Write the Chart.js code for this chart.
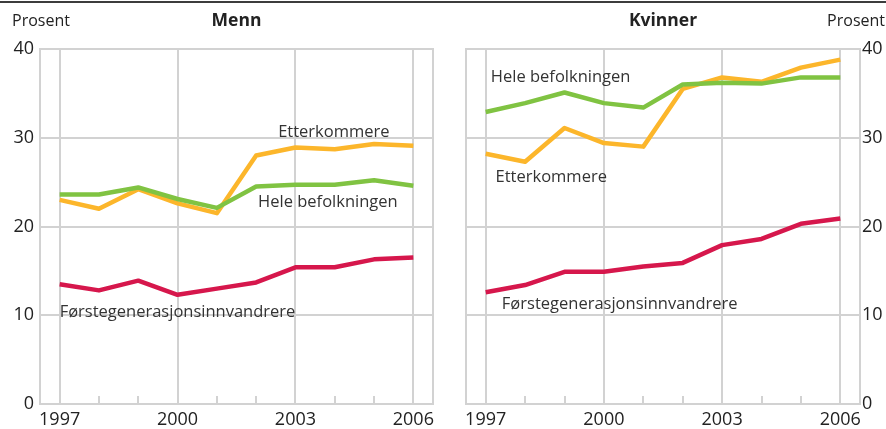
<!DOCTYPE html>
<html>
<head>
<meta charset="utf-8">
<script src="https://cdn.jsdelivr.net/npm/chart.js@4.4.1/dist/chart.umd.min.js"></script>
<style>
  html, body { margin: 0; padding: 0; background: #fff; }
  #wrap { position: relative; width: 886px; height: 429px; overflow: hidden; }
  #topline { position: absolute; left: 0; top: 1px; width: 886px; height: 2px; background: #3c3c3c; }
  canvas { position: absolute; top: 0; }
  #menn { left: 0; }
  #kvinner { left: 443px; }
</style>
</head>
<body>
<div id="wrap">
  <div id="topline"></div>
  <canvas id="menn" width="443" height="429"></canvas>
  <canvas id="kvinner" width="443" height="429"></canvas>
</div>
<script>
// Data
const years = ['1997', '1998', '1999', '2000', '2001', '2002', '2003', '2004', '2005', '2006'];
const majorYears = ['1997', '2000', '2003', '2006'];
const yTicks = [0, 10, 20, 30, 40];

const mennHele = [23.6, 23.6, 24.4, 23.1, 22.1, 24.5, 24.7, 24.7, 25.2, 24.6];
const mennEtterkommere = [23.0, 22.0, 24.2, 22.6, 21.5, 28.0, 28.9, 28.7, 29.3, 29.1];
const mennForste = [13.5, 12.8, 13.9, 12.3, 13.0, 13.7, 15.4, 15.4, 16.3, 16.5];

const kvinnerHele = [32.9, 33.9, 35.1, 33.9, 33.4, 36.0, 36.2, 36.1, 36.8, 36.8];
const kvinnerEtterkommere = [28.2, 27.3, 31.1, 29.4, 29.0, 35.5, 36.8, 36.3, 37.9, 38.8];
const kvinnerForste = [12.6, 13.4, 14.9, 14.9, 15.5, 15.9, 17.9, 18.6, 20.3, 20.9];

const GREEN = '#80c342';
const ORANGE = '#fcb62b';
const RED = '#d6174c';
const GRID = '#d2d2d2';
const TEXT = '#222';
const FONT = '"Open Sans", sans-serif';

// frame, minor ticks, titles and inline series labels
const panelDecor = {
  id: 'panelDecor',
  beforeDatasetsDraw(chart, args, opts) {
    const { ctx, chartArea: a } = chart;
    const x = chart.scales.x;
    ctx.save();
    ctx.strokeStyle = GRID;
    ctx.lineWidth = 2;
    ctx.strokeRect(a.left, a.top, a.right - a.left, a.bottom - a.top);
    years.forEach((y, i) => {
      if (majorYears.includes(y)) return;
      const px = Math.round(x.getPixelForValue(i));
      ctx.beginPath();
      ctx.moveTo(px, a.bottom);
      ctx.lineTo(px, a.bottom - 8);
      ctx.stroke();
    });
    ctx.restore();
  },
  afterDatasetsDraw(chart, args, opts) {
    const { ctx, chartArea: a } = chart;
    const x = chart.scales.x, y = chart.scales.y;
    ctx.save();
    ctx.fillStyle = TEXT;
    ctx.textBaseline = 'middle';
    ctx.font = 'bold 17.5px ' + FONT;
    ctx.textAlign = 'center';
    ctx.fillText(opts.title, (a.left + a.right) / 2, 21);
    ctx.font = '16px ' + FONT;
    if (opts.unitSide === 'left') {
      ctx.textAlign = 'left';
      ctx.fillText('Prosent', 12, 21);
    } else {
      ctx.textAlign = 'right';
      ctx.fillText('Prosent', chart.width - 1, 21);
    }
    ctx.fillStyle = '#333';
    ctx.textAlign = 'left';
    ctx.font = '16.5px ' + FONT;
    opts.labels.forEach(l => {
      ctx.fillText(l.text, x.getPixelForValue(l.x), y.getPixelForValue(l.y));
    });
    ctx.restore();
  }
};

function makePanel(id, hele, etter, forste, side, title, labels) {
  const left = side === 'left';
  return new Chart(document.getElementById(id), {
    type: 'line',
    data: {
      labels: years,
      datasets: [
        { label: 'Førstegenerasjonsinnvandrere', data: forste, borderColor: RED },
        { label: 'Hele befolkningen', data: hele, borderColor: GREEN },
        { label: 'Etterkommere', data: etter, borderColor: ORANGE }
      ].map(d => Object.assign(d, {
        borderWidth: 4.5, pointRadius: 0, tension: 0, fill: false,
        borderCapStyle: 'butt', borderJoinStyle: 'round'
      }))
    },
    options: {
      responsive: false,
      animation: false,
      events: [],
      layout: { padding: left ? { left: 0, right: 10, top: 49, bottom: 0 } : { left: 23, right: 0, top: 49, bottom: 0 } },
      plugins: {
        legend: { display: false },
        tooltip: { enabled: false },
        panelDecor: { title, unitSide: side, labels }
      },
      scales: {
        x: {
          type: 'category',
          offset: true,
          grid: {
            offset: false,
            drawTicks: false,
            lineWidth: 2,
            color: c => majorYears.includes(years[c.index]) ? GRID : 'rgba(0,0,0,0)'
          },
          border: { display: false },
          ticks: {
            autoSkip: false, maxRotation: 0, padding: 5,
            color: TEXT, font: { family: FONT, size: 18 },
            callback: (v, i) => majorYears.includes(years[i]) ? years[i] : ''
          },
          afterFit: s => { s.height = 25; }
        },
        y: {
          position: side,
          min: 0, max: 40,
          afterBuildTicks: s => { s.ticks = yTicks.map(v => ({ value: v })); },
          grid: { drawTicks: false, lineWidth: 2, color: GRID },
          border: { display: false },
          ticks: {
            padding: left ? 6 : 2,
            color: TEXT, font: { family: FONT, size: 18 }
          },
          afterFit: s => { s.width = left ? 40 : 26; }
        }
      }
    },
    plugins: [panelDecor]
  });
}

makePanel('menn', mennHele, mennEtterkommere, mennForste, 'left', 'Menn', [
  { text: 'Etterkommere', x: 5.56, y: 30.65 },
  { text: 'Hele befolkningen', x: 5.05, y: 22.76 },
  { text: 'Førstegenerasjonsinnvandrere', x: 0, y: 10.37 }
]);

makePanel('kvinner', kvinnerHele, kvinnerEtterkommere, kvinnerForste, 'right', 'Kvinner', [
  { text: 'Hele befolkningen', x: 0.13, y: 36.85 },
  { text: 'Etterkommere', x: 0.25, y: 25.6 },
  { text: 'Førstegenerasjonsinnvandrere', x: 0.41, y: 11.27 }
]);
</script>
</body>
</html>
